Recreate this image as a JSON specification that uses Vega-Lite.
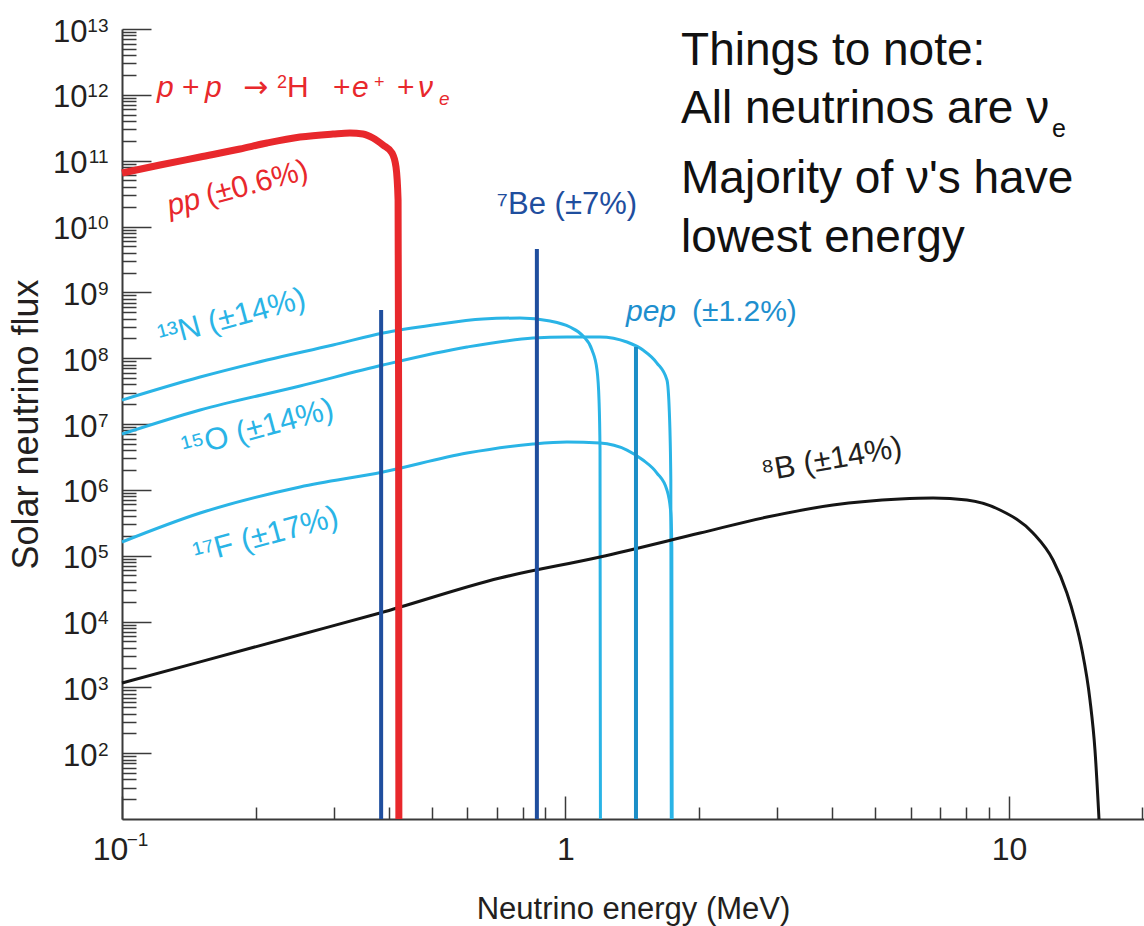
{
  "$schema": "https://vega.github.io/schema/vega-lite/v6.json",
  "width": 1022,
  "height": 790,
  "autosize": {"type": "none"},
  "padding": {"left": 122, "top": 29, "right": 0, "bottom": 107},
  "background": "white",
  "config": {
    "view": {"stroke": null},
    "font": "Liberation Sans",
    "axis": {"grid": false, "labelFont": "Liberation Sans", "titleFont": "Liberation Sans", "domainColor": "#3a3a3a", "tickColor": "#3a3a3a", "labelColor": "#231f20", "titleColor": "#231f20", "titleFontWeight": "normal", "tickWidth": 1.5, "labelOverlap": false, "labelFlush": false}
  },
  "datasets": {
    "curves": [
      {"src": "pp", "E": 0.1, "F": 6.5e10},
      {"src": "pp", "E": 0.1218, "F": 8.59e10},
      {"src": "pp", "E": 0.15, "F": 1.137e11},
      {"src": "pp", "E": 0.1845, "F": 1.504e11},
      {"src": "pp", "E": 0.2123, "F": 1.855e11},
      {"src": "pp", "E": 0.252, "F": 2.288e11},
      {"src": "pp", "E": 0.2991, "F": 2.541e11},
      {"src": "pp", "E": 0.3266, "F": 2.633e11},
      {"src": "pp", "E": 0.3495, "F": 2.541e11},
      {"src": "pp", "E": 0.3681, "F": 2.21e11},
      {"src": "pp", "E": 0.3877, "F": 1.73e11},
      {"src": "pp", "E": 0.4063, "F": 1.308e11},
      {"src": "pp", "E": 0.4148, "F": 8.01e10},
      {"src": "pp", "E": 0.4193, "F": 2.53e10},
      {"src": "pp", "E": 0.4205, "F": 2.31e7},
      {"src": "pp", "E": 0.421, "F": 10},
      {"src": "N13", "E": 0.1, "F": 2.31e7},
      {"src": "N13", "E": 0.15, "F": 5.17e7},
      {"src": "N13", "E": 0.2123, "F": 9.37e7},
      {"src": "N13", "E": 0.2991, "F": 1.584e8},
      {"src": "N13", "E": 0.3877, "F": 2.41e8},
      {"src": "N13", "E": 0.5027, "F": 3.19e8},
      {"src": "N13", "E": 0.6516, "F": 3.93e8},
      {"src": "N13", "E": 0.7896, "F": 4.07e8},
      {"src": "N13", "E": 0.9228, "F": 3.67e8},
      {"src": "N13", "E": 1.0236, "F": 2.97e8},
      {"src": "N13", "E": 1.0952, "F": 2.17e8},
      {"src": "N13", "E": 1.1476, "F": 1.33e8},
      {"src": "N13", "E": 1.1779, "F": 6.61e7},
      {"src": "N13", "E": 1.1902, "F": 2.31e7},
      {"src": "N13", "E": 1.1964, "F": 4.02e6},
      {"src": "N13", "E": 1.199, "F": 10},
      {"src": "O15", "E": 0.1, "F": 7.04e6},
      {"src": "O15", "E": 0.15, "F": 1.631e7},
      {"src": "O15", "E": 0.252, "F": 3.78e7},
      {"src": "O15", "E": 0.3877, "F": 7.87e7},
      {"src": "O15", "E": 0.5997, "F": 1.477e8},
      {"src": "O15", "E": 0.8447, "F": 2.02e8},
      {"src": "O15", "E": 1.0078, "F": 2.1e8},
      {"src": "O15", "E": 1.1964, "F": 2.1e8},
      {"src": "O15", "E": 1.3761, "F": 1.76e8},
      {"src": "O15", "E": 1.495, "F": 1.33e8},
      {"src": "O15", "E": 1.6078, "F": 8.44e7},
      {"src": "O15", "E": 1.6936, "F": 4.66e7},
      {"src": "O15", "E": 1.715, "F": 1.468e7},
      {"src": "O15", "E": 1.728, "F": 1.41e6},
      {"src": "O15", "E": 1.732, "F": 10},
      {"src": "F17", "E": 0.1, "F": 1.612e5},
      {"src": "F17", "E": 0.15, "F": 4.44e5},
      {"src": "F17", "E": 0.252, "F": 1.103e6},
      {"src": "F17", "E": 0.3877, "F": 1.865e6},
      {"src": "F17", "E": 0.5997, "F": 3.62e6},
      {"src": "F17", "E": 0.8447, "F": 4.97e6},
      {"src": "F17", "E": 1.0078, "F": 5.32e6},
      {"src": "F17", "E": 1.1964, "F": 5.14e6},
      {"src": "F17", "E": 1.3761, "F": 4.02e6},
      {"src": "F17", "E": 1.495, "F": 2.84e6},
      {"src": "F17", "E": 1.6078, "F": 1.8e6},
      {"src": "F17", "E": 1.6936, "F": 9.93e5},
      {"src": "F17", "E": 1.728, "F": 4.44e5},
      {"src": "F17", "E": 1.737, "F": 1.353e5},
      {"src": "F17", "E": 1.74, "F": 10},
      {"src": "B8", "E": 0.1, "F": 1163},
      {"src": "B8", "E": 0.15, "F": 2439},
      {"src": "B8", "E": 0.252, "F": 6295},
      {"src": "B8", "E": 0.3817, "F": 13450},
      {"src": "B8", "E": 0.7115, "F": 45750},
      {"src": "B8", "E": 1.1964, "F": 95400},
      {"src": "B8", "E": 2.011, "F": 2.207e5},
      {"src": "B8", "E": 2.847, "F": 3.86e5},
      {"src": "B8", "E": 4.011, "F": 5.88e5},
      {"src": "B8", "E": 5.678, "F": 7.25e5},
      {"src": "B8", "E": 6.741, "F": 7.51e5},
      {"src": "B8", "E": 8.04, "F": 7.0e5},
      {"src": "B8", "E": 9.544, "F": 4.94e5},
      {"src": "B8", "E": 11.33, "F": 2.207e5},
      {"src": "B8", "E": 12.57, "F": 85900},
      {"src": "B8", "E": 13.51, "F": 27100},
      {"src": "B8", "E": 14.09, "F": 10530},
      {"src": "B8", "E": 14.61, "F": 3686},
      {"src": "B8", "E": 15.23, "F": 641},
      {"src": "B8", "E": 15.63, "F": 111.6},
      {"src": "B8", "E": 15.96, "F": 10}
    ],
    "lines": [
      {"src": "7Be 0.384", "E": 0.384, "F": 5.38e8},
      {"src": "7Be 0.862", "E": 0.862, "F": 4.55e9},
      {"src": "pep", "E": 1.442, "F": 1.48e8}
    ],
    "formula": [
      {"kind": "italic", "text": "p", "E": 0.11992, "F": 9.27e11},
      {"kind": "plain", "text": "+", "E": 0.13654, "F": 9.27e11},
      {"kind": "italic", "text": "p", "E": 0.15385, "F": 9.27e11},
      {"kind": "arrow", "text": "→", "E": 0.18744, "F": 9.27e11},
      {"kind": "sup", "text": "2", "E": 0.22367, "F": 1.27e12},
      {"kind": "plain", "text": "H", "E": 0.2355, "F": 9.27e11},
      {"kind": "plain", "text": "+", "E": 0.29906, "F": 9.27e11},
      {"kind": "italic", "text": "e", "E": 0.33003, "F": 9.27e11},
      {"kind": "sup", "text": "+", "E": 0.36999, "F": 1.27e12},
      {"kind": "plain", "text": "+", "E": 0.41707, "F": 9.27e11},
      {"kind": "italic", "text": "ν", "E": 0.46494, "F": 9.27e11},
      {"kind": "sub", "text": "e", "E": 0.51854, "F": 7.01e11}
    ],
    "labels": [
      {"id": "ppA", "text": "pp", "E": 0.1283, "F": 1.443e10},
      {"id": "ppB", "text": "(±0.6%)", "E": 0.1568, "F": 2.077e10},
      {"id": "N13", "text": "¹³N (±14%)", "E": 0.177, "F": 4.07e8},
      {"id": "O15", "text": "¹⁵O (±14%)", "E": 0.2025, "F": 8.39e6},
      {"id": "F17", "text": "¹⁷F (±17%)", "E": 0.2112, "F": 1.99e5},
      {"id": "Be7", "text": "⁷Be (±7%)", "E": 1.0078, "F": 2.12e10},
      {"id": "pepA", "text": "pep", "E": 1.369, "F": 3.67e8},
      {"id": "pepB", "text": "(±1.2%)", "E": 1.929, "F": 3.67e8},
      {"id": "B8", "text": "⁸B (±14%)", "E": 3.99, "F": 2.84e6},
      {"id": "note", "text": "Things to note:", "E": 1.822, "F": 2.839e12},
      {"id": "note", "text": "All neutrinos are ν", "E": 1.822, "F": 3.694e11},
      {"id": "note", "text": "Majority of ν's have", "E": 1.822, "F": 3.194e10},
      {"id": "note", "text": "lowest energy", "E": 1.822, "F": 4.14e9},
      {"id": "sub", "text": "e", "E": 12.5, "F": 2.288e11}
    ]
  },
  "layer": [
    {
      "data": {"name": "curves"},
      "transform": [{"filter": "datum.src == 'N13' || datum.src == 'O15' || datum.src == 'F17'"}],
      "mark": {"type": "line", "color": "#2ab4e6", "strokeWidth": 3, "interpolate": "monotone"},
      "encoding": {
        "x": {"field": "E", "type": "quantitative", "scale": {"type": "log", "domain": [0.1, 20.16], "nice": false},
          "axis": {"orient": "bottom", "values": [1, 10], "labelExpr": "datum.value < 5 ? '1' : '10'", "ticks": false, "tickSize": 0, "labelPadding": 15, "labelFontSize": 32, "domain": true, "domainWidth": 2, "title": "Neutrino energy (MeV)", "titleFontSize": 31, "titleBaseline": "alphabetic", "titleY": 99}},
        "y": {"field": "F", "type": "quantitative", "scale": {"type": "log", "domain": [10, 1e13], "nice": false},
          "axis": {"orient": "left", "values": [1e2, 1e3, 1e4, 1e5, 1e6, 1e7, 1e8, 1e9], "labelExpr": "'10'", "ticks": false, "tickSize": 0, "labelPadding": 25, "labelFontSize": 31, "labelOffset": 3, "domain": true, "domainWidth": 2, "title": "Solar neutrino flux", "titleFontSize": 36, "titleX": -85, "titleBaseline": "alphabetic"}},
        "detail": {"field": "src"}
      }
    },
    {
      "data": {"name": "curves"},
      "transform": [{"filter": "datum.src == 'B8'"}],
      "mark": {"type": "line", "color": "#151515", "strokeWidth": 3, "interpolate": "monotone"},
      "encoding": {
        "x": {"field": "E", "type": "quantitative", "scale": {"type": "log", "domain": [0.1, 20.16], "nice": false},
          "axis": {"orient": "bottom", "values": [0.1, 1, 10], "labels": false, "tickSize": -23, "domain": false, "title": null}},
        "y": {"field": "F", "type": "quantitative", "scale": {"type": "log", "domain": [10, 1e13], "nice": false},
          "axis": {"orient": "left", "values": [1e2, 1e3, 1e4, 1e5, 1e6, 1e7, 1e8, 1e9, 1e10, 1e11, 1e12, 1e13], "labels": false, "tickSize": -29, "domain": false, "title": null}}
      }
    },
    {
      "data": {"name": "curves"},
      "transform": [{"filter": "datum.src == 'pp'"}],
      "mark": {"type": "line", "color": "#e8282c", "strokeWidth": 7, "interpolate": "monotone"},
      "encoding": {
        "x": {"field": "E", "type": "quantitative", "scale": {"type": "log", "domain": [0.1, 20.16], "nice": false},
          "axis": {"orient": "bottom", "values": [0.2, 0.3, 0.4, 0.5, 0.6, 0.7, 0.8, 0.9, 2, 3, 4, 5, 6, 7, 8, 9, 20], "labels": false, "tickSize": -12, "domain": false, "title": null}},
        "y": {"field": "F", "type": "quantitative", "scale": {"type": "log", "domain": [10, 1e13], "nice": false},
          "axis": {"orient": "left", "values": [2e1, 3e1, 4e1, 5e1, 6e1, 7e1, 8e1, 9e1, 2e2, 3e2, 4e2, 5e2, 6e2, 7e2, 8e2, 9e2, 2e3, 3e3, 4e3, 5e3, 6e3, 7e3, 8e3, 9e3, 2e4, 3e4, 4e4, 5e4, 6e4, 7e4, 8e4, 9e4, 2e5, 3e5, 4e5, 5e5, 6e5, 7e5, 8e5, 9e5, 2e6, 3e6, 4e6, 5e6, 6e6, 7e6, 8e6, 9e6, 2e7, 3e7, 4e7, 5e7, 6e7, 7e7, 8e7, 9e7, 2e8, 3e8, 4e8, 5e8, 6e8, 7e8, 8e8, 9e8, 2e9, 3e9, 4e9, 5e9, 6e9, 7e9, 8e9, 9e9, 2e10, 3e10, 4e10, 5e10, 6e10, 7e10, 8e10, 9e10, 2e11, 3e11, 4e11, 5e11, 6e11, 7e11, 8e11, 9e11, 2e12, 3e12, 4e12, 5e12, 6e12, 7e12, 8e12, 9e12], "labels": false, "tickSize": -14, "domain": false, "title": null}}
      }
    },
    {
      "data": {"name": "lines"},
      "mark": {"type": "rule", "strokeWidth": 4},
      "encoding": {
        "x": {"field": "E", "type": "quantitative", "scale": {"type": "log", "domain": [0.1, 20.16], "nice": false},
          "axis": {"orient": "bottom", "values": [0.1], "labelExpr": "'10'", "ticks": false, "tickSize": 0, "labelPadding": 15, "labelFontSize": 32, "labelOffset": -12, "domain": false, "title": null}},
        "y": {"field": "F", "type": "quantitative", "scale": {"type": "log", "domain": [10, 1e13], "nice": false},
          "axis": {"orient": "left", "values": [1e10, 1e11, 1e12, 1e13], "labelExpr": "'10'", "ticks": false, "tickSize": 0, "labelPadding": 35, "labelFontSize": 31, "labelOffset": 3, "domain": false, "title": null}},
        "y2": {"datum": 10},
        "color": {"field": "src", "type": "nominal", "scale": {"domain": ["7Be 0.384", "7Be 0.862", "pep"], "range": ["#1f4e9e", "#1f4e9e", "#1b8ec7"]}, "legend": null}
      }
    },
    {
      "data": {"name": "formula"},
      "transform": [{"filter": "datum.kind == 'italic'"}],
      "mark": {"type": "text", "color": "#e8282c", "fontSize": 30, "fontStyle": "italic", "align": "left", "baseline": "alphabetic"},
      "encoding": {
        "x": {"field": "E", "type": "quantitative", "scale": {"type": "log", "domain": [0.1, 20.16], "nice": false},
          "axis": {"orient": "bottom", "values": [0.1], "labelExpr": "'−1'", "ticks": false, "tickSize": 0, "labelPadding": 11, "labelFontSize": 19, "labelOffset": 15, "domain": false, "title": null}},
        "y": {"field": "F", "type": "quantitative", "scale": {"type": "log", "domain": [10, 1e13], "nice": false},
          "axis": {"orient": "left", "values": [1e2, 1e3, 1e4, 1e5, 1e6, 1e7, 1e8, 1e9, 1e10, 1e11, 1e12, 1e13], "labelExpr": "'' + round(log(datum.value)/LN10)", "ticks": false, "tickSize": 0, "labelPadding": 14, "labelFontSize": 19, "labelOffset": -4, "domain": false, "title": null}},
        "text": {"field": "text"}
      }
    },
    {
      "data": {"name": "formula"},
      "transform": [{"filter": "datum.kind == 'plain'"}],
      "mark": {"type": "text", "color": "#e8282c", "fontSize": 30, "align": "left", "baseline": "alphabetic"},
      "encoding": {
        "x": {"field": "E", "type": "quantitative", "scale": {"type": "log", "domain": [0.1, 20.16], "nice": false}, "axis": null},
        "y": {"field": "F", "type": "quantitative", "scale": {"type": "log", "domain": [10, 1e13], "nice": false}, "axis": null},
        "text": {"field": "text"}
      }
    },
    {
      "data": {"name": "formula"},
      "transform": [{"filter": "datum.kind == 'arrow'"}],
      "mark": {"type": "text", "color": "#e8282c", "fontSize": 30, "font": "DejaVu Sans", "align": "left", "baseline": "alphabetic"},
      "encoding": {
        "x": {"field": "E", "type": "quantitative", "scale": {"type": "log", "domain": [0.1, 20.16], "nice": false}, "axis": null},
        "y": {"field": "F", "type": "quantitative", "scale": {"type": "log", "domain": [10, 1e13], "nice": false}, "axis": null},
        "text": {"field": "text"}
      }
    },
    {
      "data": {"name": "formula"},
      "transform": [{"filter": "datum.kind == 'sup'"}],
      "mark": {"type": "text", "color": "#e8282c", "fontSize": 18, "align": "left", "baseline": "alphabetic"},
      "encoding": {
        "x": {"field": "E", "type": "quantitative", "scale": {"type": "log", "domain": [0.1, 20.16], "nice": false}, "axis": null},
        "y": {"field": "F", "type": "quantitative", "scale": {"type": "log", "domain": [10, 1e13], "nice": false}, "axis": null},
        "text": {"field": "text"}
      }
    },
    {
      "data": {"name": "formula"},
      "transform": [{"filter": "datum.kind == 'sub'"}],
      "mark": {"type": "text", "color": "#e8282c", "fontSize": 19, "fontStyle": "italic", "align": "left", "baseline": "alphabetic"},
      "encoding": {
        "x": {"field": "E", "type": "quantitative", "scale": {"type": "log", "domain": [0.1, 20.16], "nice": false}, "axis": null},
        "y": {"field": "F", "type": "quantitative", "scale": {"type": "log", "domain": [10, 1e13], "nice": false}, "axis": null},
        "text": {"field": "text"}
      }
    },
    {
      "data": {"name": "labels"},
      "transform": [{"filter": "datum.id == 'ppA'"}],
      "mark": {"type": "text", "color": "#e8282c", "fontSize": 30, "fontStyle": "italic", "align": "left", "baseline": "alphabetic", "angle": 345},
      "encoding": {
        "x": {"field": "E", "type": "quantitative", "scale": {"type": "log", "domain": [0.1, 20.16], "nice": false}, "axis": null},
        "y": {"field": "F", "type": "quantitative", "scale": {"type": "log", "domain": [10, 1e13], "nice": false}, "axis": null},
        "text": {"field": "text"}
      }
    },
    {
      "data": {"name": "labels"},
      "transform": [{"filter": "datum.id == 'ppB'"}],
      "mark": {"type": "text", "color": "#e8282c", "fontSize": 30, "align": "left", "baseline": "alphabetic", "angle": 345},
      "encoding": {
        "x": {"field": "E", "type": "quantitative", "scale": {"type": "log", "domain": [0.1, 20.16], "nice": false}, "axis": null},
        "y": {"field": "F", "type": "quantitative", "scale": {"type": "log", "domain": [10, 1e13], "nice": false}, "axis": null},
        "text": {"field": "text"}
      }
    },
    {
      "data": {"name": "labels"},
      "transform": [{"filter": "datum.id == 'N13' || datum.id == 'O15' || datum.id == 'F17'"}],
      "mark": {"type": "text", "color": "#2ab4e6", "fontSize": 31, "align": "center", "baseline": "middle", "angle": 345},
      "encoding": {
        "x": {"field": "E", "type": "quantitative", "scale": {"type": "log", "domain": [0.1, 20.16], "nice": false}, "axis": null},
        "y": {"field": "F", "type": "quantitative", "scale": {"type": "log", "domain": [10, 1e13], "nice": false}, "axis": null},
        "text": {"field": "text"}
      }
    },
    {
      "data": {"name": "labels"},
      "transform": [{"filter": "datum.id == 'Be7'"}],
      "mark": {"type": "text", "color": "#1f4e9e", "fontSize": 31, "align": "center", "baseline": "middle"},
      "encoding": {
        "x": {"field": "E", "type": "quantitative", "scale": {"type": "log", "domain": [0.1, 20.16], "nice": false}, "axis": null},
        "y": {"field": "F", "type": "quantitative", "scale": {"type": "log", "domain": [10, 1e13], "nice": false}, "axis": null},
        "text": {"field": "text"}
      }
    },
    {
      "data": {"name": "labels"},
      "transform": [{"filter": "datum.id == 'pepA'"}],
      "mark": {"type": "text", "color": "#1e8fce", "fontSize": 30, "fontStyle": "italic", "align": "left", "baseline": "alphabetic"},
      "encoding": {
        "x": {"field": "E", "type": "quantitative", "scale": {"type": "log", "domain": [0.1, 20.16], "nice": false}, "axis": null},
        "y": {"field": "F", "type": "quantitative", "scale": {"type": "log", "domain": [10, 1e13], "nice": false}, "axis": null},
        "text": {"field": "text"}
      }
    },
    {
      "data": {"name": "labels"},
      "transform": [{"filter": "datum.id == 'pepB'"}],
      "mark": {"type": "text", "color": "#1e8fce", "fontSize": 30, "align": "left", "baseline": "alphabetic"},
      "encoding": {
        "x": {"field": "E", "type": "quantitative", "scale": {"type": "log", "domain": [0.1, 20.16], "nice": false}, "axis": null},
        "y": {"field": "F", "type": "quantitative", "scale": {"type": "log", "domain": [10, 1e13], "nice": false}, "axis": null},
        "text": {"field": "text"}
      }
    },
    {
      "data": {"name": "labels"},
      "transform": [{"filter": "datum.id == 'B8'"}],
      "mark": {"type": "text", "color": "#231f20", "fontSize": 31, "align": "center", "baseline": "middle", "angle": 350},
      "encoding": {
        "x": {"field": "E", "type": "quantitative", "scale": {"type": "log", "domain": [0.1, 20.16], "nice": false}, "axis": null},
        "y": {"field": "F", "type": "quantitative", "scale": {"type": "log", "domain": [10, 1e13], "nice": false}, "axis": null},
        "text": {"field": "text"}
      }
    },
    {
      "data": {"name": "labels"},
      "transform": [{"filter": "datum.id == 'note'"}],
      "mark": {"type": "text", "color": "#111111", "fontSize": 46, "align": "left", "baseline": "alphabetic"},
      "encoding": {
        "x": {"field": "E", "type": "quantitative", "scale": {"type": "log", "domain": [0.1, 20.16], "nice": false}, "axis": null},
        "y": {"field": "F", "type": "quantitative", "scale": {"type": "log", "domain": [10, 1e13], "nice": false}, "axis": null},
        "text": {"field": "text"}
      }
    },
    {
      "data": {"name": "labels"},
      "transform": [{"filter": "datum.id == 'sub'"}],
      "mark": {"type": "text", "color": "#111111", "fontSize": 25, "align": "left", "baseline": "alphabetic"},
      "encoding": {
        "x": {"field": "E", "type": "quantitative", "scale": {"type": "log", "domain": [0.1, 20.16], "nice": false}, "axis": null},
        "y": {"field": "F", "type": "quantitative", "scale": {"type": "log", "domain": [10, 1e13], "nice": false}, "axis": null},
        "text": {"field": "text"}
      }
    }
  ],
  "resolve": {"axis": {"x": "independent", "y": "independent"}}
}
